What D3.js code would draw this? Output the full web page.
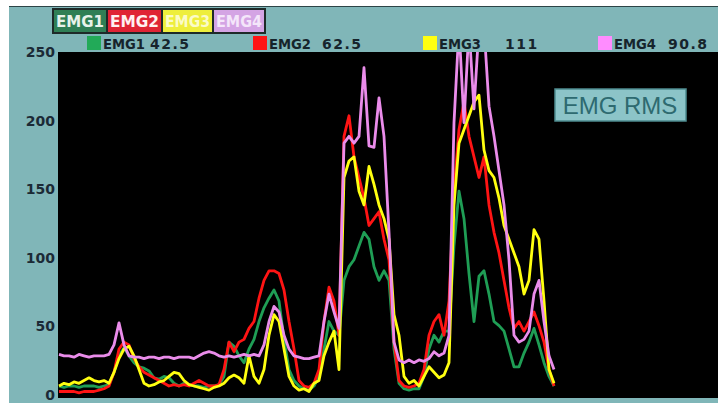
<!DOCTYPE html>
<html>
<head>
<meta charset="utf-8">
<script src="https://cdn.jsdelivr.net/npm/d3@7"></script>
<style>
  html, body { margin: 0; padding: 0; background: #ffffff; }
  svg { display: block; }
</style>
</head>
<body>
<div id="chart"></div>
<script>
// channel names, RMS readouts and colours
const channels = ['EMG1', 'EMG2', 'EMG3', 'EMG4'];
const rmsValues = ['42.5', '62.5', '111', '90.8'];
const lineColors = ['#1f9e55', '#ff1414', '#ffff10', '#ea8cea'];
const swatchColors = ['#22aa58', '#ff1414', '#ffff10', '#ff8cff'];
const tabFills = ['#2f7f55', '#e02434', '#eeee3c', '#d4a4e4'];
const tabText = ['#e8f2ea', '#fff0f0', '#fbfbc8', '#f4e6fa'];
const yTicks = [0, 50, 100, 150, 200, 250];

// sample index (one per ~5 px column of the scope trace)
const samples = d3.range(100);

const emg1 = [8, 7, 8, 8, 7, 8, 8, 8, 7, 8, 9, 18, 30, 36, 30, 25, 22, 21, 19, 14,
  13, 15, 14, 10, 8, 10, 9, 8, 8, 7, 8, 8, 9, 15, 40, 37, 30, 25, 35, 42,
  55, 65, 72, 78, 70, 42, 20, 12, 8, 6, 5, 8, 15, 35, 55, 48, 45, 85, 95, 100,
  110, 120, 115, 95, 85, 92, 85, 35, 10, 6, 5, 6, 6, 15, 35, 45, 40, 48, 48, 110,
  150, 130, 90, 55, 88, 92, 75, 55, 52, 48, 35, 22, 22, 32, 40, 50, 38, 25, 15, 8];

const emg2 = [4, 4, 4, 4, 3, 4, 4, 4, 5, 6, 8, 18, 35, 40, 38, 28, 22, 18, 16, 14,
  12, 10, 8, 9, 8, 9, 8, 10, 12, 10, 8, 8, 9, 20, 40, 33, 40, 42, 50, 55,
  72, 85, 92, 92, 90, 78, 55, 35, 12, 8, 7, 10, 20, 55, 80, 70, 45, 190, 205, 175,
  160, 145, 125, 130, 135, 115, 100, 40, 12, 8, 7, 8, 10, 20, 45, 55, 60, 45, 70, 150,
  195, 215, 190, 175, 160, 175, 140, 120, 105, 85, 65, 50, 55, 48, 55, 62, 52, 40, 20, 8];

const emg3 = [8, 10, 9, 11, 10, 12, 14, 12, 11, 12, 10, 18, 28, 35, 37, 30, 20, 10, 8, 9,
  11, 12, 15, 18, 17, 12, 9, 8, 7, 6, 5, 7, 8, 10, 14, 16, 14, 10, 30, 15,
  10, 20, 45, 60, 55, 35, 15, 8, 5, 6, 4, 10, 12, 30, 40, 48, 20, 160, 172, 175,
  150, 140, 168, 155, 140, 130, 115, 60, 45, 15, 10, 12, 8, 15, 22, 18, 14, 16, 25, 140,
  185, 195, 205, 215, 220, 180, 165, 160, 145, 125, 115, 105, 95, 75, 85, 122, 115, 70, 20, 10];

const emg4 = [31, 30, 30, 29, 31, 30, 29, 30, 30, 30, 31, 38, 54, 38, 30, 29, 29, 28, 29, 29,
  28, 29, 29, 28, 29, 29, 29, 28, 30, 32, 33, 32, 30, 29, 30, 29, 30, 31, 30, 31,
  30, 38, 55, 66, 62, 45, 35, 30, 29, 28, 28, 29, 30, 55, 75, 62, 50, 185, 190, 185,
  190, 240, 183, 182, 218, 190, 120, 40, 27, 25, 27, 25, 27, 26, 28, 33, 30, 32, 45, 200,
  270, 200, 270, 210, 270, 270, 212, 190, 165, 140, 100, 45, 40, 42, 48, 75, 85, 55, 30, 20];

const series = [emg1, emg2, emg3, emg4];

const W = 718, H = 403;
const plot = { left: 58, top: 52, right: 718, bottom: 398 };

const svg = d3.select('#chart').append('svg')
  .attr('width', W)
  .attr('height', H);

// white frame + teal panel
svg.append('rect').attr('width', W).attr('height', H).attr('fill', '#ffffff');
svg.append('rect')
  .attr('x', 9).attr('y', 6).attr('width', W - 9).attr('height', H - 6)
  .attr('fill', '#80b6b8');
svg.append('line')
  .attr('x1', 9).attr('x2', W).attr('y1', 6.5).attr('y2', 6.5)
  .attr('stroke', '#2c4446').attr('stroke-width', 1);

// black scope area
svg.append('rect')
  .attr('x', plot.left).attr('y', plot.top)
  .attr('width', plot.right - plot.left).attr('height', plot.bottom - plot.top)
  .attr('fill', '#000000');

let x = d3.scaleLinear().domain([0, samples.length - 1]).range([59, 554]);
let y = d3.scaleLinear().domain([0, 250]).range([397, 54]);

// y axis labels
svg.append('g')
  .attr('class', 'y-axis')
  .attr('transform', 'translate(' + (plot.left - 3) + ',-2)')
  .call(d3.axisLeft(y).tickValues(yTicks).tickSize(0).tickPadding(0))
  .call(g => g.select('.domain').remove())
  .selectAll('text')
  .attr('fill', '#1b2a36')
  .attr('font-family', 'DejaVu Sans, sans-serif')
  .attr('font-weight', 'bold')
  .attr('font-size', 14);

// channel tabs
const tabX = [53, 107, 162, 213, 265];
const tabs = svg.append('g').attr('class', 'tabs');
channels.forEach(function (c, i) {
  tabs.append('rect')
    .attr('x', tabX[i]).attr('y', 9)
    .attr('width', tabX[i + 1] - tabX[i]).attr('height', 24)
    .attr('fill', tabFills[i])
    .attr('stroke', '#1e2a28').attr('stroke-width', 2);
  tabs.append('text')
    .attr('x', (tabX[i] + tabX[i + 1]) / 2).attr('y', 27)
    .attr('text-anchor', 'middle')
    .attr('font-family', 'DejaVu Sans Condensed, DejaVu Sans, sans-serif')
    .attr('font-weight', 'bold')
    .attr('font-size', 16)
    .attr('textLength', tabX[i + 1] - tabX[i] - 6)
    .attr('lengthAdjust', 'spacingAndGlyphs')
    .attr('fill', tabText[i])
    .text(c);
});

// legend row: swatch, name, rms value
const legSwatch = [87, 253, 423, 598];
const legValue = [150, 322, 505, 668];
const legend = svg.append('g').attr('class', 'legend');
channels.forEach(function (c, i) {
  legend.append('rect')
    .attr('x', legSwatch[i]).attr('y', 36)
    .attr('width', 14).attr('height', 14)
    .attr('fill', swatchColors[i]);
  legend.append('text')
    .attr('x', legSwatch[i] + 16).attr('y', 49)
    .attr('font-family', 'DejaVu Sans, sans-serif')
    .attr('font-weight', 'bold')
    .attr('font-size', 14)
    .attr('textLength', 42)
    .attr('lengthAdjust', 'spacingAndGlyphs')
    .attr('fill', '#16242c')
    .text(c);
  legend.append('text')
    .attr('x', legValue[i]).attr('y', 49)
    .attr('font-family', 'DejaVu Sans, sans-serif')
    .attr('font-weight', 'bold')
    .attr('font-size', 14)
    .attr('letter-spacing', 1.5)
    .attr('fill', '#16242c')
    .text(rmsValues[i]);
});

// traces, clipped to the scope window
svg.append('clipPath').attr('id', 'clip')
  .append('rect')
  .attr('x', plot.left).attr('y', plot.top)
  .attr('width', plot.right - plot.left).attr('height', plot.bottom - plot.top);

const line = d3.line()
  .x((d, i) => x(samples[i]))
  .y(d => y(d));

const traces = svg.append('g').attr('clip-path', 'url(#clip)');
series.forEach(function (s, i) {
  traces.append('path')
    .datum(s)
    .attr('fill', 'none')
    .attr('stroke', lineColors[i])
    .attr('stroke-width', 2.8)
    .attr('stroke-linejoin', 'round')
    .attr('d', line);
});

// title badge
svg.append('rect')
  .attr('x', 555).attr('y', 89)
  .attr('width', 131).attr('height', 32)
  .attr('fill', '#8cc4c8')
  .attr('stroke', '#4e8c90').attr('stroke-width', 1.5);
svg.append('text')
  .attr('x', 620).attr('y', 114)
  .attr('text-anchor', 'middle')
  .attr('font-family', 'Liberation Sans, Arial, sans-serif')
  .attr('font-size', 24)
  .attr('fill', '#2e6a70')
  .text('EMG RMS');
</script>
</body>
</html>
